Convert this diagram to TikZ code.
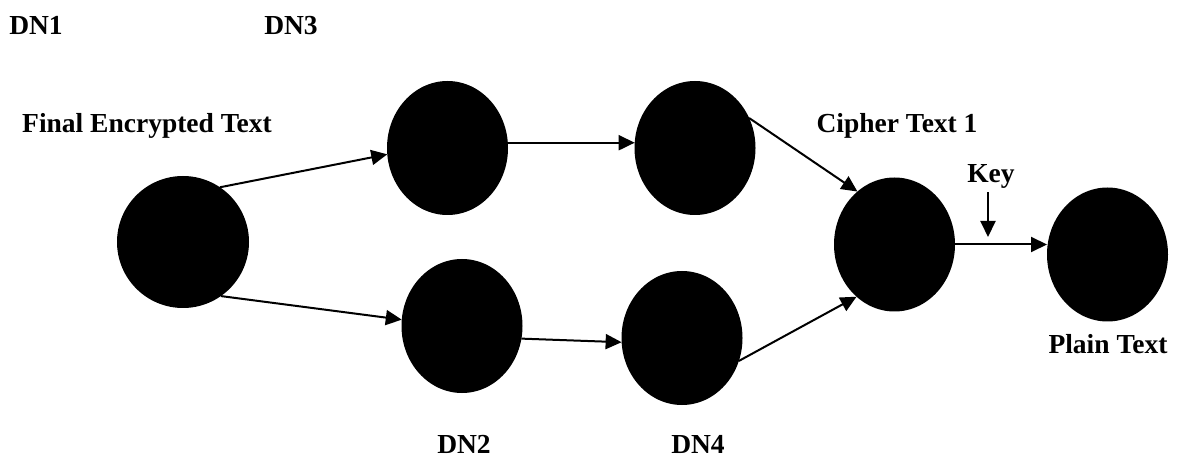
\documentclass[tikz,border=0pt]{standalone}
\usepackage{fontspec}
\setmainfont{Liberation Serif}
\usetikzlibrary{shapes.geometric,arrows.meta}

\tikzset{
  dot/.style={ellipse, fill=black, draw=none, inner sep=0pt, outer sep=0pt,
              minimum width=121pt, minimum height=134pt},
  lbl/.style={anchor=base, inner sep=0pt,
              font=\fontsize{27.5}{30}\selectfont\bfseries},
  flow/.style={line width=2pt, -{Triangle[length=16pt,width=15pt]}}
}

\begin{document}
\begin{tikzpicture}[x=1pt,y=-1pt]
\useasboundingbox (0,0) rectangle (1179,457);

% stations
\node[dot, minimum width=132pt, minimum height=132pt] (src) at (183,242) {};
\node[dot] (t1) at (447.5,148) {};
\node[dot] (t2) at (695,148) {};
\node[dot] (b1) at (462,326) {};
\node[dot] (b2) at (682,338) {};
\node[dot] (ct) at (894.5,244.5) {};
\node[dot] (pt) at (1107.5,254.5) {};

% labels
\node[lbl] (dn1) at (36,35) {DN1};
\node[lbl] (dn3) at (291,35) {DN3};
\node[lbl] (fet) at (147,133) {Final Encrypted Text};
\node[lbl] (ctl) at (897,133) {Cipher Text 1};
\node[lbl] (key) at (991,183) {Key};
\node[lbl] (ptl) at (1108,353) {Plain Text};
\node[lbl] (dn2) at (464,453) {DN2};
\node[lbl] (dn4) at (698,453) {DN4};

% connectors
\draw[flow] (src.56) -- (t1.186);
\draw[flow] (src.305) -- (b1.174);
\draw[flow] (t1.5) -- (t2.175);
\draw[flow] (b1.348) -- (b2.184);
\draw[flow] (t2.29) -- (ct.125);
\draw[flow] (b2.338) -- (ct.234);
\draw[flow] (ct.east) -- (ct.east -| pt.west);

\coordinate (keytip) at (988,237);
\draw[flow] (keytip |- key.south) ++(0,3) -- (keytip);
\end{tikzpicture}
\end{document}
